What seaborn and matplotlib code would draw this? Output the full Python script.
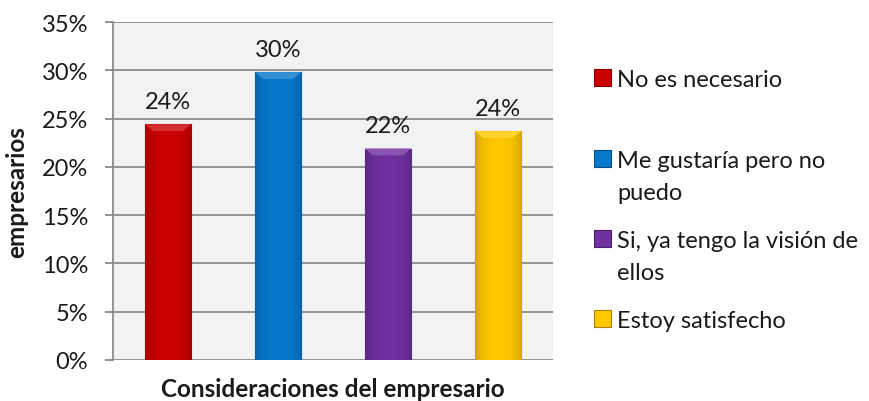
import numpy as np
import matplotlib
matplotlib.use("Agg")
import matplotlib.pyplot as plt
import matplotlib.colors as mcolors
from matplotlib.patches import Rectangle
import seaborn as sns

categories = ["No es necesario", "Me gustaría pero no\npuedo",
              "Si, ya tengo la visión de\nellos", "Estoy satisfecho"]
values = [0.244, 0.298, 0.219, 0.237]
colors = ["#cc0000", "#0878cc", "#7030a0", "#ffc800"]
yticks = [0, 0.05, 0.10, 0.15, 0.20, 0.25, 0.30, 0.35]

sns.set_theme(style="white")
plt.rcParams["font.family"] = ["Lato", "DejaVu Sans"]

TXT = "#1a1a1a"
FS = 17

fig = plt.figure(figsize=(8.69, 4.02), dpi=100)
ax = fig.add_axes([113 / 869, 1 - 361 / 402, 440 / 869, 338 / 402])
ax.set_facecolor("#f2f2f2")

sns.barplot(x=categories, y=values, hue=categories, palette=colors,
            width=0.42, legend=False, ax=ax, saturation=1, zorder=3)

# shaded bevel look on each bar
for patch, col in zip(ax.patches, colors):
    rgb = np.array(mcolors.to_rgb(col))
    x0, y0 = patch.get_x(), patch.get_y()
    w, h = patch.get_width(), patch.get_height()
    t = np.linspace(0, 1, 64)
    shade = 0.8 + 0.2 * np.sin(np.pi * t) ** 0.5
    grad = np.clip(rgb[None, :] * shade[:, None], 0, 1)[None, :, :]
    im = ax.imshow(grad, extent=[x0, x0 + w, y0, y0 + h], aspect="auto",
                   zorder=3.5, interpolation="bicubic")
    im.set_clip_path(patch)
    patch.set_edgecolor(tuple(rgb * 0.65))
    patch.set_linewidth(0.8)
    bev = 0.007
    light = tuple(np.clip(rgb + (1 - rgb) * 0.18, 0, 1))
    ax.fill([x0, x0 + w, x0 + w * 0.82, x0 + w * 0.18],
            [y0 + h, y0 + h, y0 + h - bev, y0 + h - bev],
            color=light, zorder=3.6, lw=0)

ax.set_xlim(-0.5, 3.5)
ax.set_ylim(0, 0.35)
ax.set_yticks(yticks)
ax.set_yticklabels([f"{v:.0%}" for v in yticks], fontsize=FS, color=TXT)
ax.set_xticks([])
ax.yaxis.grid(True, color="#8c8c8c", linewidth=1.3, zorder=0)
ax.set_axisbelow(True)
for s in ["top", "right", "bottom"]:
    ax.spines[s].set_visible(False)
ax.spines["left"].set_color("#8c8c8c")
ax.spines["left"].set_linewidth(1.3)
ax.tick_params(axis="y", left=True, length=5.8, width=1.3, color="#8c8c8c", pad=12)

for patch, v in zip(ax.patches, values):
    ax.annotate(f"{v:.0%}", (patch.get_x() + patch.get_width() / 2, v),
                xytext=(0, 9), textcoords="offset points",
                ha="center", va="bottom", fontsize=FS, color=TXT)

ax.set_ylabel("empresarios", fontsize=17.5, fontweight="bold", color=TXT)
ax.yaxis.set_label_coords(-0.193, 0.5)
ax.set_xlabel("Consideraciones del empresario", fontsize=17.5,
              fontweight="bold", color=TXT)
ax.xaxis.set_label_coords(0.5, -0.05)

# legend drawn beside the plot area
legend_rows = [79, 160, 240, 320]
for lab, col, yrow in zip(categories, colors, legend_rows):
    fy = 1 - yrow / 402
    rgb = np.array(mcolors.to_rgb(col))
    fig.patches.append(Rectangle((594 / 869, fy - 8 / 402), 17 / 869, 17 / 402,
                                 transform=fig.transFigure, facecolor=col,
                                 edgecolor=tuple(rgb * 0.65), linewidth=0.8))
    fig.text(617 / 869, fy + 9 / 402, lab, ha="left", va="top",
             fontsize=FS, color=TXT, linespacing=1.62)

fig.savefig("out.png", dpi=100)
